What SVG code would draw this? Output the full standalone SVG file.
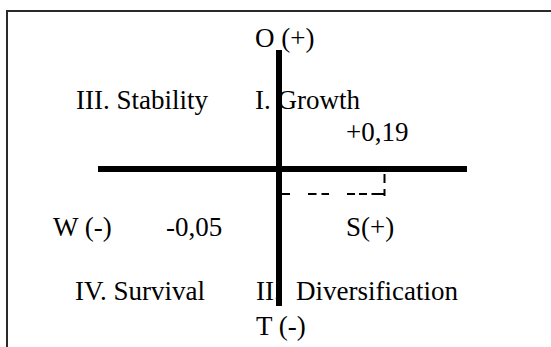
<svg xmlns="http://www.w3.org/2000/svg" width="551" height="347" viewBox="0 0 551 347">
<style>
text{font-family:"Liberation Serif","Times New Roman",serif;font-size:27px;fill:#000}
.axis{stroke:#000;stroke-width:6;fill:none}
.dash{stroke:#000;stroke-width:2;fill:none}
.frame{stroke:#2a2a2a;stroke-width:2;fill:none}
</style>
<rect width="551" height="347" fill="#fff"/>
<path class="frame" d="M7,347 V11 H551"/>
<g id="label-o"><text x="255" y="47">O (+)</text></g>
<g id="q3"><text x="76" y="109">III. Stability</text></g>
<g id="q1"><text x="255" y="109">I. Growth</text></g>
<g id="val-s"><text x="346" y="141">+0,19</text></g>
<g id="label-w"><text x="53" y="236">W (-)</text></g>
<g id="val-w"><text x="166" y="236">-0,05</text></g>
<g id="label-s"><text x="346" y="236">S(+)</text></g>
<g id="q4"><text x="75" y="300">IV. Survival</text></g>
<g id="q2"><text x="256" y="300">II.<tspan x="296">Diversification</tspan></text></g>
<g id="label-t"><text x="256" y="335">T (-)</text></g>
<g id="connectors">
<path class="axis" d="M279,50 V306"/>
<path class="axis" d="M98,169 H467"/>
<path class="dash" d="M282,194 H290 M308,194 H316.5 M321.5,194 H329 M347,194 H355 M359,194 H367 M371.5,194 H384.5 M384.5,174 V183 M384.5,189 V196"/>
</g>
</svg>
